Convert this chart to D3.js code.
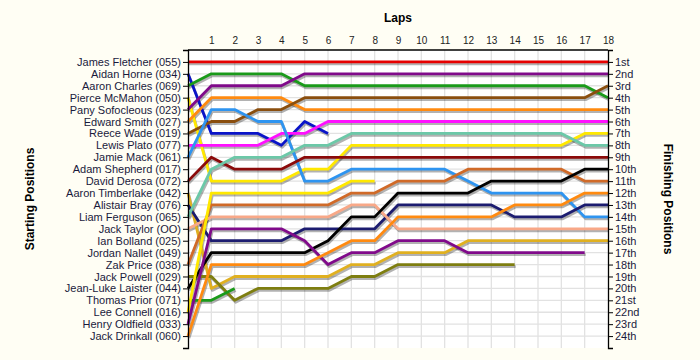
<!DOCTYPE html>
<html>
<head>
<meta charset="utf-8">
<script src="https://cdn.jsdelivr.net/npm/d3@7"></script>
<style>
  html, body { margin: 0; padding: 0; background: #fffef4; }
  svg { display: block; }
</style>
</head>
<body>
<svg id="chart" width="700" height="360"></svg>
<script>
// ---- Data ----
const drivers = [
  "James Fletcher (055)", "Aidan Horne (034)", "Aaron Charles (069)", "Pierce McMahon (050)",
  "Pany Sofocleous (023)", "Edward Smith (027)", "Reece Wade (019)", "Lewis Plato (077)",
  "Jamie Mack (061)", "Adam Shepherd (017)", "David Derosa (072)", "Aaron Timberlake (042)",
  "Alistair Bray (076)", "Liam Ferguson (065)", "Jack Taylor (OO)", "Ian Bolland (025)",
  "Jordan Nallet (049)", "Zak Price (038)", "Jack Powell (029)", "Jean-Luke Laister (044)",
  "Thomas Prior (071)", "Lee Connell (016)", "Henry Oldfield (033)", "Jack Drinkall (060)"
];
const lapLabels = ["1","2","3","4","5","6","7","8","9","10","11","12","13","14","15","16","17","18"];
const finishLabels = ["1st","2nd","3rd","4th","5th","6th","7th","8th","9th","10th","11th","12th",
  "13th","14th","15th","16th","17th","18th","19th","20th","21st","22nd","23rd","24th"];

// positions per lap (lap 0 = start), one array per driver, in start order
const posJamesFletcher   = [1,1,1,1,1,1,1,1,1,1,1,1,1,1,1,1,1,1,1];
const posAidanHorne      = [2,7,7,7,8,6,7];
const posAaronCharles    = [3,2,2,2,2,3,3,3,3,3,3,3,3,3,3,3,3,3,4];
const posPierceMcMahon   = [4,11,11,11,11,10,10,8,8,8,8,8,8,8,8,8,8,7,7];
const posPanySofocleous  = [5,3,3,3,3,2,2,2,2,2,2,2,2,2,2,2,2,2,2];
const posEdwardSmith     = [6,4,4,4,4,5,5,5,5,5,5,5,5,5,5,5,5,5,5];
const posReeceWade       = [7,6,6,5,5,4,4,4,4,4,4,4,4,4,4,4,4,4,3];
const posLewisPlato      = [8,8,8,8,7,7,6,6,6,6,6,6,6,6,6,6,6,6,6];
const posJamieMack       = [9,5,5,6,6,11,11,10,10,10,10,10,11,12,12,12,12,14,14];
const posAdamShepherd    = [];
const posDavidDerosa     = [11,9,10,10,10,9,9,9,9,9,9,9,9,9,9,9,9,9,9];
const posAaronTimberlake = [12,20,19,19,19,19,19,18,18,17,17,17,16,16,16,16,16,16,16];
const posAlistairBray    = [13,16,16,16,16,15,15,15,15,13,13,13,13,13,14,14,14,13,13];
const posLiamFerguson    = [14,10,9,9,9,8,8,7,7,7,7,7,7,7,7,7,7,8,8];
const posJackTaylor      = [15,14,14,14,14,14,14,13,13,15,15,15,15,15,15,15,15,15,15];
const posIanBolland      = [];
const posJordanNallet    = [];
const posZakPrice        = [18,13,13,13,13,13,13,12,12,11,11,11,10,10,10,10,10,11,11];
const posJackPowell      = [19,19,21,20,20,20,20,19,19,18,18,18,18,18,18];
const posJeanLukeLaister = [20,17,17,17,17,17,16,14,14,12,12,12,12,11,11,11,11,10,10];
const posThomasPrior     = [21,21,20];
const posLeeConnell      = [22,12,12,12,12,12,12,11,11];
const posHenryOldfield   = [23,15,15,15,15,16,18,17,17,16,16,16,17,17,17,17,17,17];
const posJackDrinkall    = [24,18,18,18,18,18,17,16,16,14,14,14,14,14,13,13,13,12,12];

const positions = [
  posJamesFletcher, posAidanHorne, posAaronCharles, posPierceMcMahon, posPanySofocleous,
  posEdwardSmith, posReeceWade, posLewisPlato, posJamieMack, posAdamShepherd, posDavidDerosa,
  posAaronTimberlake, posAlistairBray, posLiamFerguson, posJackTaylor, posIanBolland,
  posJordanNallet, posZakPrice, posJackPowell, posJeanLukeLaister, posThomasPrior,
  posLeeConnell, posHenryOldfield, posJackDrinkall
];
const colors = [
  "#e60000", "#0a14c8", "#1a9a1a", "#ffe800", "#800a8a", "#ff8a10", "#8a4e0e", "#ff10ff",
  "#2e94f0", "#888888", "#8b0a0a", "#e0b020", "#1c1c70", "#6cc8a8", "#f8a888", "#888888",
  "#888888", "#d06a28", "#7e7e10", "#000000", "#1a9a1a", "#ffe800", "#800a8a", "#ff8a10"
];

// ---- Layout ----
const svg = d3.select("#chart");
const W = 700, H = 360;
const mLeft = 188, mRight = 608, mTop = 50, mBottom = 348;
const maxLap = 18;

const x = d3.scaleLinear().domain([0, maxLap]).range([mLeft, mRight]);
const y = d3.scaleLinear().domain([0, 25]).range([mTop, mBottom]);

svg.append("rect").attr("width", W).attr("height", H).attr("fill", "#fffef4");
svg.append("rect").attr("x", mLeft).attr("y", mTop).attr("width", mRight - mLeft).attr("height", mBottom - mTop)
  .attr("fill", "#ffffff");

// grid
const grid = svg.append("g");
grid.selectAll("line.v").data(d3.range(1, maxLap)).join("line").attr("class", "v")
  .attr("x1", d => x(d)).attr("x2", d => x(d)).attr("y1", mTop).attr("y2", mBottom)
  .attr("stroke", "#e2e2e2").attr("stroke-width", 1.3);
grid.selectAll("line.h").data(d3.range(1, 25)).join("line").attr("class", "h")
  .attr("x1", mLeft).attr("x2", mRight).attr("y1", d => y(d)).attr("y2", d => y(d))
  .attr("stroke", "#e2e2e2").attr("stroke-width", 1.3);

// lines
const line = d3.line().x((d, i) => x(i)).y(d => y(d));
const series = positions.map((p, i) => ({ p, c: colors[i] })).filter(s => s.p.length > 1);

const shadows = svg.append("g").attr("transform", "translate(1,2)");
shadows.selectAll("path").data(series).join("path")
  .attr("d", s => line(s.p)).attr("fill", "none")
  .attr("stroke", "#000").attr("stroke-opacity", 0.3).attr("stroke-width", 2.8)
  .attr("stroke-linejoin", "round");
const lines = svg.append("g");
lines.selectAll("path").data(series).join("path")
  .attr("d", s => line(s.p)).attr("fill", "none")
  .attr("stroke", s => s.c).attr("stroke-width", 2.8).attr("stroke-linejoin", "round");

// axes
const font = "Liberation Sans, Arial, sans-serif";
const textColor = "#1a1a3c";

const leftAxis = d3.axisLeft(y).tickValues(d3.range(0, 26)).tickSize(5)
  .tickFormat(d => (d >= 1 && d <= 24) ? drivers[d - 1] : "");
const gl = svg.append("g").attr("transform", `translate(${mLeft},0)`).call(leftAxis);
const rightAxis = d3.axisRight(y).tickValues(d3.range(0, 26)).tickSize(5)
  .tickFormat(d => (d >= 1 && d <= 24) ? finishLabels[d - 1] : "");
const gr = svg.append("g").attr("transform", `translate(${mRight},0)`).call(rightAxis);
const topAxis = d3.axisTop(x).tickValues(d3.range(1, maxLap + 1)).tickSize(0)
  .tickFormat(d => lapLabels[d - 1]);
const gt = svg.append("g").attr("transform", `translate(0,${mTop})`).call(topAxis);

[gl, gr, gt].forEach(g => {
  g.selectAll(".domain").attr("stroke", "#000").attr("stroke-width", 1.3);
  g.selectAll(".tick line").attr("stroke", "#000");
  g.selectAll("text").attr("fill", textColor).attr("font-family", font);
});
gl.selectAll("text").attr("font-size", 11).attr("x", -7);
gr.selectAll("text").attr("font-size", 11).attr("x", 7);
gt.selectAll("text").attr("font-size", 10).attr("y", -6).attr("fill", "#222");
gt.select(".domain").attr("d", `M${mLeft},0H${mRight}`);

// titles
svg.append("text").attr("x", (mLeft + mRight) / 2).attr("y", 22).attr("text-anchor", "middle")
  .attr("font-family", font).attr("font-weight", "bold").attr("font-size", 12).text("Laps");
svg.append("text").attr("transform", `translate(34,${(mTop + mBottom) / 2}) rotate(-90)`)
  .attr("text-anchor", "middle").attr("font-family", font).attr("font-weight", "bold")
  .attr("font-size", 12).text("Starting Positions");
svg.append("text").attr("transform", `translate(664,${(mTop + mBottom) / 2}) rotate(90)`)
  .attr("text-anchor", "middle").attr("font-family", font).attr("font-weight", "bold")
  .attr("font-size", 12).text("Finishing Positions");
</script>
</body>
</html>
